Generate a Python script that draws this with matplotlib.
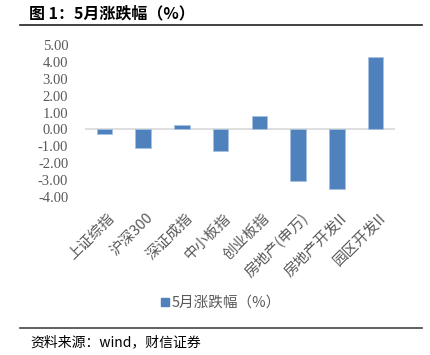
import matplotlib.pyplot as plt
from matplotlib.lines import Line2D

plt.rcParams['font.family'] = ['Noto Sans CJK SC', 'DejaVu Sans']

categories = ['上证综指', '沪深300', '深证成指', '中小板指', '创业板指',
              '房地产(申万)', '房地产开发II', '园区开发II']
values = [-0.25, -1.10, 0.25, -1.25, 0.80, -3.05, -3.55, 4.27]
yticks = [5, 4, 3, 2, 1, 0, -1, -2, -3, -4]
series_name = '5月涨跌幅（%）'

fig = plt.figure(figsize=(4.3, 3.55), dpi=100)
ax = fig.add_axes([85 / 430, 1 - 197 / 355, 310 / 430, 152 / 355])

x = range(len(categories))
ax.bar(x, values, width=0.4, color='#4f81bd', edgecolor='#a9c1e0',
       linewidth=0.6, label=series_name, zorder=3)
ax.axhline(0, color='#d9d9d9', linewidth=1.2, zorder=2)

ax.set_xlim(-0.5, len(categories) - 0.5)
ax.set_ylim(-4, 5)
ax.set_yticks(yticks)
ax.set_yticklabels([f'{v:.2f}' for v in yticks], fontfamily='Liberation Serif',
                   fontsize=10.5, color='#595959')
ax.set_xticks(list(x))
ax.set_xticklabels([])
for i, c in enumerate(categories):
    ax.annotate(c, xy=(i, 0), xycoords=('data', 'axes fraction'),
                xytext=(2, -10), textcoords='offset points',
                rotation=45, ha='right', va='top', rotation_mode='anchor',
                fontsize=10.5, color='#595959')
ax.tick_params(axis='y', length=0, pad=12)
ax.tick_params(axis='x', length=0)
for s in ax.spines.values():
    s.set_visible(False)

leg = fig.legend(handles=[Line2D([], [], marker='s', color='#4f81bd', linestyle='',
                                 markersize=6)],
                 labels=[series_name], loc='center', bbox_to_anchor=(220 / 430, 1 - 303 / 355),
                 frameon=False, fontsize=10.5, handletextpad=0.1, handlelength=0.8)
for t in leg.get_texts():
    t.set_color('#595959')

fig.text(29 / 430, 1 - 13 / 355, '图 1：5月涨跌幅（%）', fontsize=11.5, fontweight='bold',
         va='center', ha='left', color='black')
fig.add_artist(Line2D([20 / 430, 422 / 430], [1 - 25 / 355] * 2, color='#222222', linewidth=1.2))
fig.add_artist(Line2D([20 / 430, 422 / 430], [1 - 328 / 355] * 2, color='#444444', linewidth=1.2))
fig.text(30 / 430, 1 - 342 / 355, '资料来源：wind，财信证券', fontsize=10, style='italic',
         va='center', ha='left', color='black')

fig.savefig('out.png', dpi=100)
